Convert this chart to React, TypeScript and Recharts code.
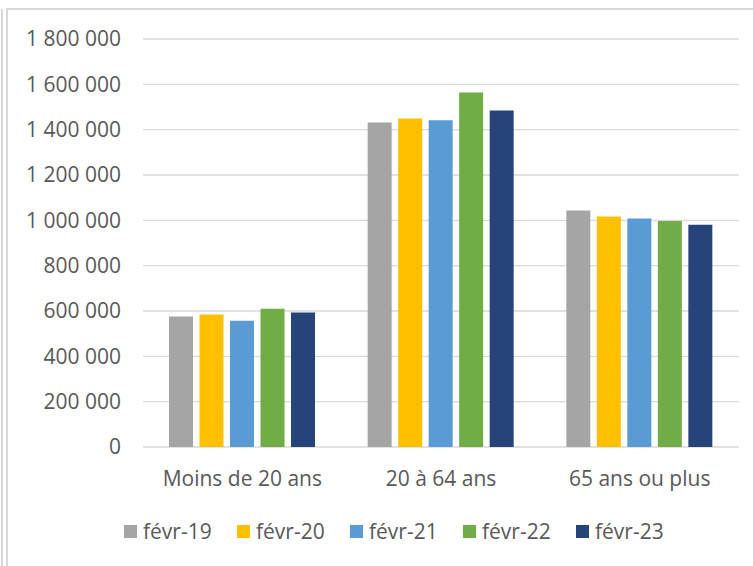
import React from 'react';
import { BarChart, Bar, XAxis, YAxis, CartesianGrid, Legend } from 'recharts';

const categories = ['Moins de 20 ans', '20 à 64 ans', '65 ans ou plus'];
const seriesNames = ['févr-19', 'févr-20', 'févr-21', 'févr-22', 'févr-23'];
const seriesColors = ['#A5A5A5', '#FFC000', '#5B9BD5', '#70AD47', '#264478'];

const fevr19 = [576000, 1432000, 1043000];
const fevr20 = [585000, 1449000, 1017000];
const fevr21 = [557000, 1441000, 1008000];
const fevr22 = [610000, 1564000, 997000];
const fevr23 = [593000, 1485000, 981000];

const yTicks = [0, 200000, 400000, 600000, 800000, 1000000, 1200000, 1400000, 1600000, 1800000];

const seriesValues = [fevr19, fevr20, fevr21, fevr22, fevr23];

const chartData = categories.map((cat, i) => {
    const row: Record<string, string | number> = { category: cat };
    seriesNames.forEach((name, s) => {
        row[name] = seriesValues[s][i];
    });
    return row;
});

// 1 800 000 style, plain spaces
const formatNumber = (v: number) => String(v).replace(/\B(?=(\d{3})+(?!\d))/g, ' ');

const FONT = '"Open Sans", sans-serif';
const TEXT_COLOR = '#595959';
const FRAME = '#d9d9d9';

function LegendContent({ payload }: any) {
    return (
        <div style={{ display: 'flex', alignItems: 'center', height: 24 }}>
            {(payload || []).map((entry: any) => (
                <div key={entry.value} style={{ display: 'flex', alignItems: 'center', width: 113 }}>
                    <span style={{ width: 13, height: 13, background: entry.color, marginRight: 6, display: 'inline-block' }} />
                    <span style={{ fontFamily: FONT, fontSize: 21, color: TEXT_COLOR, lineHeight: '24px' }}>
                        {entry.value}
                    </span>
                </div>
            ))}
        </div>
    );
}

export default function App() {
    return (
        <div style={{ position: 'absolute', left: 0, top: 0, width: 753, height: 566, background: '#fff', overflow: 'hidden' }}>
            {/* chart frame, cropped on the right and bottom */}
            <div style={{ position: 'absolute', left: 1, top: 9, width: 2, height: 557, background: FRAME }} />
            <div style={{ position: 'absolute', left: 6, top: 8, width: 2, height: 558, background: FRAME }} />
            <div style={{ position: 'absolute', left: 6, top: 8, width: 747, height: 2, background: FRAME }} />
            <BarChart
                width={753}
                height={566}
                data={chartData}
                margin={{ top: 39, right: 14, left: 0, bottom: 79 }}
                barCategoryGap={26}
                barGap={6.5}
                style={{ position: 'absolute', left: 0, top: 0 }}
            >
                <CartesianGrid vertical={false} stroke={FRAME} strokeWidth={1.4} />
                <XAxis
                    dataKey="category"
                    height={40}
                    axisLine={false}
                    tickLine={false}
                    tickSize={0}
                    tickMargin={24}
                    tick={{ fill: TEXT_COLOR, fontSize: 21, fontFamily: FONT }}
                />
                <YAxis
                    width={143}
                    domain={[0, 1800000]}
                    ticks={yTicks}
                    interval={0}
                    axisLine={false}
                    tickLine={false}
                    tickSize={0}
                    tickMargin={22}
                    tickFormatter={formatNumber}
                    tick={{ fill: TEXT_COLOR, fontSize: 21, fontFamily: FONT }}
                />
                <Legend
                    layout="horizontal"
                    verticalAlign="middle"
                    align="center"
                    wrapperStyle={{ top: 519, left: 124, width: 620 }}
                    content={<LegendContent />}
                />
                {seriesNames.map((name, i) => (
                    <Bar key={name} dataKey={name} fill={seriesColors[i]} isAnimationActive={false} />
                ))}
            </BarChart>
        </div>
    );
}
